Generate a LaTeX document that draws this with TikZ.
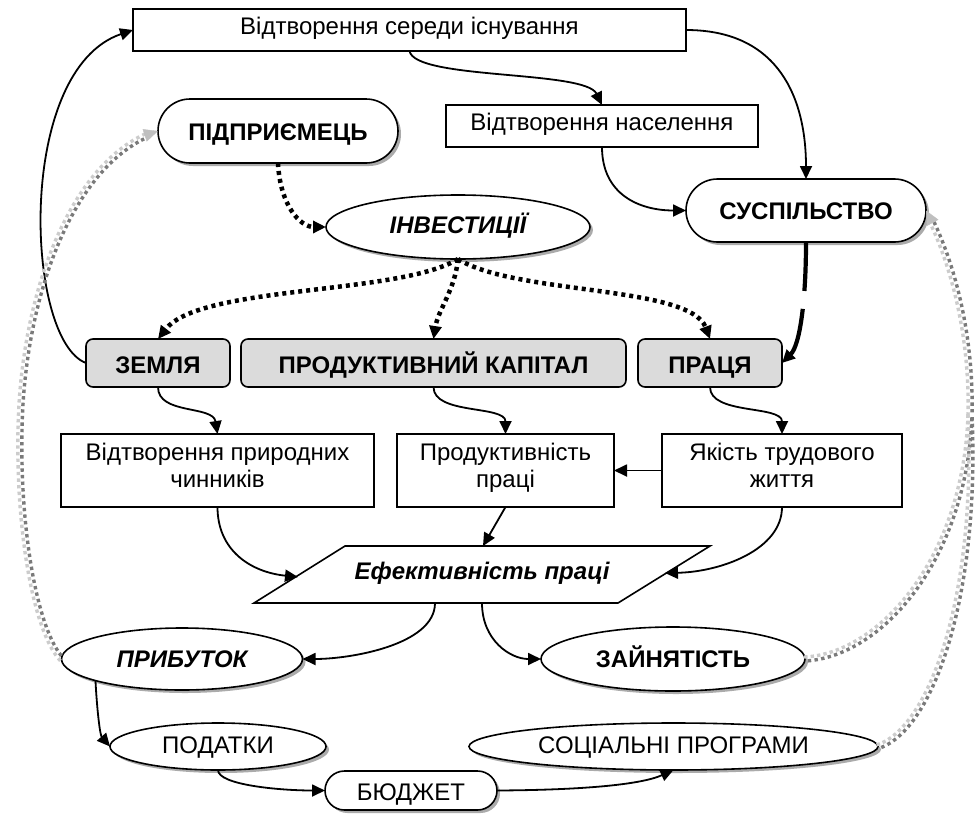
\documentclass[tikz,border=0pt]{standalone}
\usepackage{fontspec}
\setmainfont{Liberation Sans}
\usetikzlibrary{shapes.geometric,arrows.meta,shadows,decorations.markings}
\begin{document}
\begin{tikzpicture}[x=1pt,y=-1pt,
  every node/.style={inner sep=0pt,outer sep=0pt,font=\fontsize{24}{27}\selectfont,align=center},
  bl/.style={text depth=0pt,text height=#1},
  shd/.style={drop shadow={shadow xshift=3pt,shadow yshift=-3pt,fill=black!33,opacity=1}},
  bx/.style={draw,line width=1.6pt,fill=white,rectangle},
  gbx/.style={draw,line width=1.6pt,fill=black!14,rectangle,rounded corners=7pt,minimum height=48pt,font=\fontsize{24}{27}\selectfont\bfseries,bl=20pt},
  stad/.style={draw,line width=1.6pt,fill=white,rectangle,shd},
  ell/.style={draw,line width=1.6pt,fill=white,ellipse,shd},
  tip/.style={-{Triangle[length=13pt,width=12pt]}},
  con/.style={line width=1.8pt,tip},
  dotb/.style={line width=4.5pt,dash pattern=on 4pt off 4pt,tip},
  rowL/.style={postaction={decorate,decoration={markings,
    mark=between positions 1pt and -#1 step 6.6pt with {\fill[black!20] (-1.7pt,0.3pt) rectangle (1.7pt,3.7pt);}}}},
  rowR/.style={postaction={decorate,decoration={markings,
    mark=between positions 4.3pt and -#1 step 6.6pt with {\fill[black!52] (-1.7pt,-3.7pt) rectangle (1.7pt,-0.3pt);}}}},
  gline/.style={rowL=#1,rowR=#1},
  gend/.style={postaction={decorate,decoration={markings,
    mark=at position 1 with {\arrow[black!25]{Triangle[length=14pt,width=13pt]}}}}}
]
\useasboundingbox (0,0) rectangle (977,814);

% nodes
\node[bx,minimum width=553pt,minimum height=42pt,bl=8.6pt] (top) at (409.5,30) {Відтворення середи існування};
\node[bx,minimum width=312pt,minimum height=42pt,bl=8pt] (pop) at (602,126) {Відтворення населення};
\node[stad,rounded corners=32pt,minimum width=240pt,minimum height=64pt,font=\fontsize{24}{27}\selectfont\bfseries,bl=18pt] (pid) at (278,131) {ПІДПРИЄМЕЦЬ};
\node[stad,rounded corners=31.5pt,minimum width=240pt,minimum height=63pt,font=\fontsize{24}{27}\selectfont\bfseries,bl=17pt] (sus) at (806,210.5) {СУСПІЛЬСТВО};
\node[ell,minimum width=264pt,minimum height=64pt,font=\fontsize{24}{27}\selectfont\bfseries\itshape,bl=12pt] (inv) at (458,227) {ІНВЕСТИЦІЇ};
\node[gbx,minimum width=144pt] (zem) at (158,363) {ЗЕМЛЯ};
\node[gbx,minimum width=385pt] (kap) at (433.5,363) {ПРОДУКТИВНИЙ КАПІТАЛ};
\node[gbx,minimum width=144pt] (pra) at (710,363) {ПРАЦЯ};
\node[bx,minimum width=313pt,minimum height=73pt] (vpr) at (217.5,470.5) {Відтворення природних\\чинників\rule[-10pt]{0pt}{10pt}};
\node[bx,minimum width=217pt,minimum height=73pt] (prod) at (505.5,470.5) {Продуктивність\\праці\rule[-10pt]{0pt}{10pt}};
\node[bx,minimum width=240pt,minimum height=73pt] (yak) at (782,470.5) {Якість трудового\\життя\rule[-10pt]{0pt}{10pt}};
\draw[line width=1.6pt,fill=white] (345,546) -- (710,546) -- (618,603) -- (254,603) -- cycle;
\node[font=\fontsize{24}{27}\selectfont\bfseries\itshape,bl=9pt] (eff) at (482,574.5) {Ефективність праці};
\coordinate (effL) at (298,577);
\coordinate (effR) at (665,573);
\coordinate (effT) at (483,546);
\coordinate (effB1) at (435,603);
\coordinate (effB2) at (482,603);
\node[ell,minimum width=241pt,minimum height=62pt,font=\fontsize{24}{27}\selectfont\bfseries\itshape,bl=16pt] (pri) at (182,659) {ПРИБУТОК};
\node[ell,minimum width=264pt,minimum height=64pt,font=\fontsize{24}{27}\selectfont\bfseries,bl=16pt] (zay) at (673,659) {ЗАЙНЯТІСТЬ};
\node[ell,minimum width=216pt,minimum height=47pt,bl=13pt] (pod) at (218,746.5) {ПОДАТКИ};
\node[stad,rounded corners=19.5pt,minimum width=172pt,minimum height=39pt,bl=19pt] (bud) at (411,790.5) {БЮДЖЕТ};
\node[ell,minimum width=409pt,minimum height=47pt,bl=13pt] (soc) at (673.5,746.5) {СОЦІАЛЬНІ ПРОГРАМИ};
\coordinate (M) at (970,415);

% black connectors
\draw[con] (zem.west) .. controls (25,340) and (15,70) .. (top.west);
\draw[con] (top.south) .. controls (415,80) and (585,70) .. (pop.north);
\draw[con] (top.east) .. controls (780,30) and (806,100) .. (sus.north);
\draw[con] (pop.south) .. controls (602,195) and (640,210.5) .. (sus.west);
\draw[con] (zem.south) .. controls (158,415) and (213,405) .. (vpr.north);
\draw[con] (kap.south) .. controls (433.5,415) and (505.5,405) .. (prod.north);
\draw[con] (pra.south) .. controls (710,415) and (782,405) .. (yak.north);
\draw[con] (yak.west) -- (prod.east);
\draw[con] (vpr.south) .. controls (217.5,550) and (250,572) .. (effL);
\draw[con] (prod.south) -- (effT);
\draw[con] (yak.south) .. controls (782,550) and (720,572) .. (effR);
\draw[con] (effB1) .. controls (435,645) and (350,659) .. (pri.east);
\draw[con] (effB2) .. controls (482,640) and (510,659) .. (zay.west);
\draw[con] (pri.194.5) .. controls (97,710) and (100,735) .. (pod.west);
\draw[con] (pod.south) .. controls (218,785) and (280,790.5) .. (bud.west);
\draw[con] (bud.east) .. controls (580,790) and (640,785) .. (soc.south);

% dotted black
\draw[dotb] (pid.south) .. controls (280,205) and (300,227) .. (inv.west);
\draw[dotb] (inv.south) .. controls (400,295) and (200,285) .. (zem.north);
\draw[dotb] (inv.south) .. controls (455,290) and (438,310) .. (kap.north);
\draw[dotb] (inv.south) .. controls (515,295) and (690,285) .. (pra.north);

% thick dashed
\draw[line width=4.2pt,dash pattern=on 49pt off 18pt,tip] (sus.south) .. controls (806,300) and (800,345) .. (pra.east);

% gray checkered lines
\path[gline=14pt,gend] (pri.west) .. controls (35,630) and (18,530) .. (20,430) .. controls (22,300) and (70,160) .. (pid.west);
\path[gline=1pt] (zay.east) .. controls (880,655) and (965,560) .. (M);
\path[gline=1pt] (soc.east) .. controls (930,730) and (978,600) .. (M);
\path[gline=14pt,gend] (M) .. controls (972,330) and (950,255) .. (sus.east);
\end{tikzpicture}
\end{document}
